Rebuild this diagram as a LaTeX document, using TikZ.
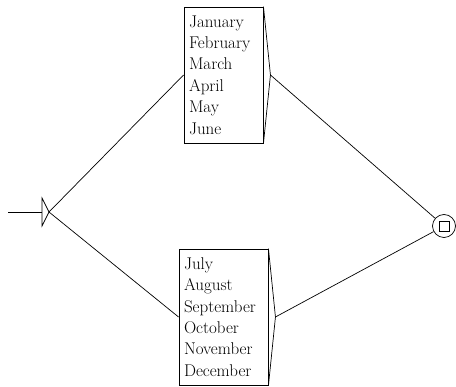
\documentclass[tikz,border=0pt]{standalone}
\usetikzlibrary{positioning}
\begin{document}
\begin{tikzpicture}[x=1pt, y=-1pt,
      box/.style={rectangle, draw, line width=0.9pt, minimum height=136pt,
                  inner xsep=5pt, align=left,
                  font=\fontsize{17}{21.4}\selectfont},
      link/.style={line width=0.7pt}]
    \useasboundingbox (0,0) rectangle (456,387);
    \node[box, text width=69pt] (first) at (223.5,75)
      {January\\February\\March\\April\\May\\June};
    \node[box, text width=79pt] (second) at (223.5,317)
      {July\\August\\September\\October\\November\\December};
    % initial and final states
    \coordinate (entry) at (8,212);
    \coordinate (init) at (49,212);
    \draw[link] (init) -- ++(-7,-14) -- ++(0,28) -- cycle;
    \draw[link] (entry) -- ([xshift=-7pt]init);
    \node[circle, draw, line width=0.7pt, minimum size=23pt, inner sep=0pt] (final) at (444,226) {};
    \node[draw, line width=0.7pt, minimum size=10pt, inner sep=0pt] (finalbox) at (final) {};
    \foreach \b in {first,second} {
      \coordinate (\b tip) at ([xshift=7pt]\b.east);
      \draw[link] (\b.north east) -- (\b tip) -- (\b.south east);
      \draw[link] (init) -- (\b.west);
      \draw[link] (\b tip) -- (final);
    }
  \end{tikzpicture}
\end{document}
